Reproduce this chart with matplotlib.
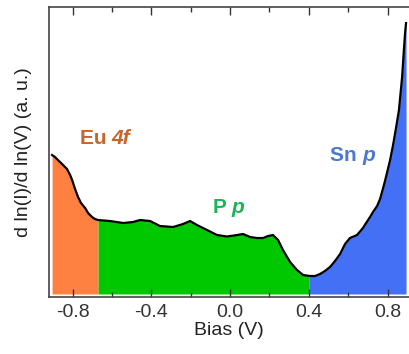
import matplotlib
matplotlib.use('Agg')
import matplotlib.pyplot as plt
import numpy as np

# tunnelling spectrum, normalised conductance vs bias
bias = [-0.904, -0.889, -0.874, -0.853, -0.828, -0.812, -0.802, -0.787, -0.772,
        -0.757, -0.736, -0.721, -0.701, -0.686, -0.670, -0.609,
        -0.543, -0.493, -0.457, -0.406, -0.356, -0.289, -0.239, -0.203, -0.168,
        -0.117, -0.066, -0.015, 0.036, 0.066, 0.102, 0.137, 0.168, 0.193, 0.218,
        0.244, 0.269, 0.305, 0.340, 0.371, 0.406, 0.432, 0.457, 0.482, 0.508,
        0.533, 0.559, 0.584, 0.609, 0.645, 0.675, 0.691, 0.711, 0.726, 0.747,
        0.762, 0.772, 0.787, 0.797, 0.813, 0.828, 0.843, 0.858,
        0.874, 0.884, 0.889, 0.894]
signal = [1.42, 1.40, 1.37, 1.33, 1.28, 1.22, 1.17, 1.08, 1.00,
          0.94, 0.89, 0.84, 0.80, 0.78, 0.77, 0.76,
          0.74, 0.75, 0.77, 0.76, 0.71, 0.70, 0.73, 0.76, 0.72,
          0.67, 0.62, 0.605, 0.62, 0.63, 0.60, 0.59, 0.59, 0.61, 0.62,
          0.57, 0.47, 0.35, 0.27, 0.22, 0.21, 0.21, 0.23, 0.26, 0.30,
          0.36, 0.43, 0.53, 0.59, 0.62, 0.69, 0.74, 0.80, 0.85, 0.91,
          0.98, 1.05, 1.16, 1.24, 1.37, 1.52, 1.69, 1.87,
          2.20, 2.50, 2.64, 2.74]

# orbital character regions and their fill colours
region_bounds = [-0.904, -0.67, 0.40, 0.894]
region_colors = ['#ff8142', '#00c800', '#4470f5']
baseline = 0.03

plt.rcParams['font.family'] = ['Liberation Sans', 'DejaVu Sans']

fig = plt.figure(figsize=(4.09, 3.54), dpi=100)
ax = fig.add_axes([0.1186, 0.161, 0.8814, 0.819])

bias = np.array(bias)
signal = np.array(signal)
for i in range(len(region_colors)):
    lo, hi = region_bounds[i], region_bounds[i + 1]
    inside = (bias > lo) & (bias < hi)
    xs = np.concatenate([[lo], bias[inside], [hi]])
    ys = np.interp(xs, bias, signal)
    ax.fill_between(xs, baseline, ys, color=region_colors[i], lw=0)

ax.plot(bias, signal, color='black', lw=1.6, solid_joinstyle='round')

ax.text(-0.762, 1.59, 'Eu ', color='#c9642a', fontsize=15, fontweight='bold',
        ha='left', va='center')
ax.text(-0.605, 1.59, '4f', color='#c9642a', fontsize=15, fontweight='bold',
        fontstyle='italic', ha='left', va='center')
ax.text(-0.086, 0.90, 'P ', color='#1cb456', fontsize=15, fontweight='bold',
        ha='left', va='center')
ax.text(0.005, 0.90, 'p', color='#1cb456', fontsize=15, fontweight='bold',
        fontstyle='italic', ha='left', va='center')
ax.text(0.508, 1.42, 'Sn ', color='#4a78d4', fontsize=15, fontweight='bold',
        ha='left', va='center')
ax.text(0.672, 1.42, 'p', color='#4a78d4', fontsize=15, fontweight='bold',
        fontstyle='italic', ha='left', va='center')

ax.set_xlim(-0.922, 0.909)
ax.set_ylim(0, 2.90)
ax.set_xticks([-0.8, -0.4, 0.0, 0.4, 0.8])
ax.set_xticklabels(['-0.8', '-0.4', '0.0', '0.4', '0.8'])
ax.set_xticks([-0.6, -0.2, 0.2, 0.6], minor=True)
ax.set_yticks([])
ax.tick_params(axis='x', which='major', direction='in', top=True, length=6,
               width=1, labelsize=14, colors='#333333', pad=5)
ax.tick_params(axis='x', which='minor', direction='in', top=True, length=3.5,
               width=1, colors='#333333')
for side in ['left', 'top', 'bottom']:
    ax.spines[side].set_color('#444444')
    ax.spines[side].set_linewidth(1.2)
ax.spines['right'].set_visible(False)

ax.set_xlabel('Bias (V)', fontsize=14, color='#222222', labelpad=1)
ax.set_ylabel('d ln(I)/d ln(V) (a. u.)', fontsize=14, color='#222222', labelpad=12)

fig.savefig('out.png', dpi=100)
